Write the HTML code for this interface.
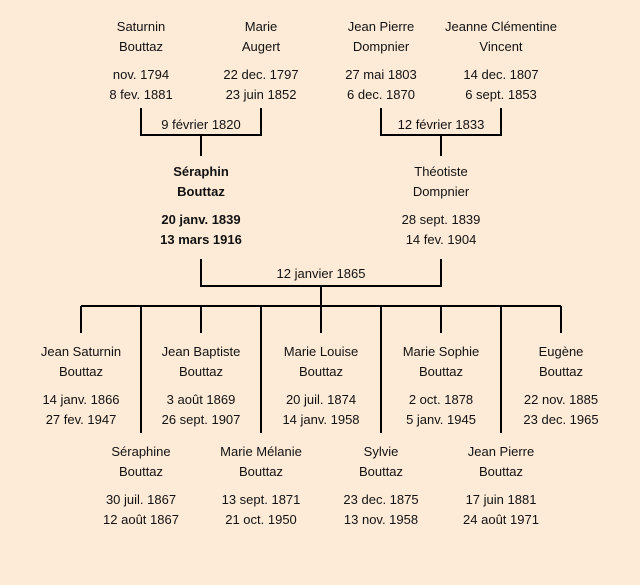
<!DOCTYPE html>
<html><head><meta charset="utf-8"><style>
body{margin:0;width:640px;height:585px;background:#fdebd8;position:relative;overflow:hidden;font-family:"Liberation Sans","DejaVu Sans",sans-serif;font-size:13px;color:#111}
.t{position:absolute;width:160px;margin-left:-80px;text-align:center;line-height:20px;white-space:nowrap}
.b{font-weight:bold}
svg{position:absolute;left:0;top:0}
</style></head><body>
<svg width="640" height="585" stroke="#000" stroke-width="2" fill="none">
<path d="M141 108V135H261V108M201 135V156"/>
<path d="M381 108V135H501V108M441 135V156"/>
<path d="M201 259V286H441V259M321 286V306"/>
<path d="M81 306H561"/>
<path d="M81 306V333M201 306V333M321 306V333M441 306V333M561 306V333"/>
<path d="M141 306V433M261 306V433M381 306V433M501 306V433"/>
</svg>
<div class="t" style="left:141px;top:17px">Saturnin<br>Bouttaz</div>
<div class="t" style="left:141px;top:65px">nov. 1794<br>8 fev. 1881</div>
<div class="t" style="left:261px;top:17px">Marie<br>Augert</div>
<div class="t" style="left:261px;top:65px">22 dec. 1797<br>23 juin 1852</div>
<div class="t" style="left:381px;top:17px">Jean Pierre<br>Dompnier</div>
<div class="t" style="left:381px;top:65px">27 mai 1803<br>6 dec. 1870</div>
<div class="t" style="left:501px;top:17px">Jeanne Clémentine<br>Vincent</div>
<div class="t" style="left:501px;top:65px">14 dec. 1807<br>6 sept. 1853</div>
<div class="t" style="left:201px;top:115px">9 février 1820</div>
<div class="t" style="left:441px;top:115px">12 février 1833</div>
<div class="t b" style="left:201px;top:162px">Séraphin<br>Bouttaz</div>
<div class="t b" style="left:201px;top:210px">20 janv. 1839<br>13 mars 1916</div>
<div class="t" style="left:441px;top:162px">Théotiste<br>Dompnier</div>
<div class="t" style="left:441px;top:210px">28 sept. 1839<br>14 fev. 1904</div>
<div class="t" style="left:321px;top:264px">12 janvier 1865</div>
<div class="t" style="left:81px;top:342px">Jean Saturnin<br>Bouttaz</div>
<div class="t" style="left:81px;top:390px">14 janv. 1866<br>27 fev. 1947</div>
<div class="t" style="left:201px;top:342px">Jean Baptiste<br>Bouttaz</div>
<div class="t" style="left:201px;top:390px">3 août 1869<br>26 sept. 1907</div>
<div class="t" style="left:321px;top:342px">Marie Louise<br>Bouttaz</div>
<div class="t" style="left:321px;top:390px">20 juil. 1874<br>14 janv. 1958</div>
<div class="t" style="left:441px;top:342px">Marie Sophie<br>Bouttaz</div>
<div class="t" style="left:441px;top:390px">2 oct. 1878<br>5 janv. 1945</div>
<div class="t" style="left:561px;top:342px">Eugène<br>Bouttaz</div>
<div class="t" style="left:561px;top:390px">22 nov. 1885<br>23 dec. 1965</div>
<div class="t" style="left:141px;top:442px">Séraphine<br>Bouttaz</div>
<div class="t" style="left:141px;top:490px">30 juil. 1867<br>12 août 1867</div>
<div class="t" style="left:261px;top:442px">Marie Mélanie<br>Bouttaz</div>
<div class="t" style="left:261px;top:490px">13 sept. 1871<br>21 oct. 1950</div>
<div class="t" style="left:381px;top:442px">Sylvie<br>Bouttaz</div>
<div class="t" style="left:381px;top:490px">23 dec. 1875<br>13 nov. 1958</div>
<div class="t" style="left:501px;top:442px">Jean Pierre<br>Bouttaz</div>
<div class="t" style="left:501px;top:490px">17 juin 1881<br>24 août 1971</div>
</body></html>
